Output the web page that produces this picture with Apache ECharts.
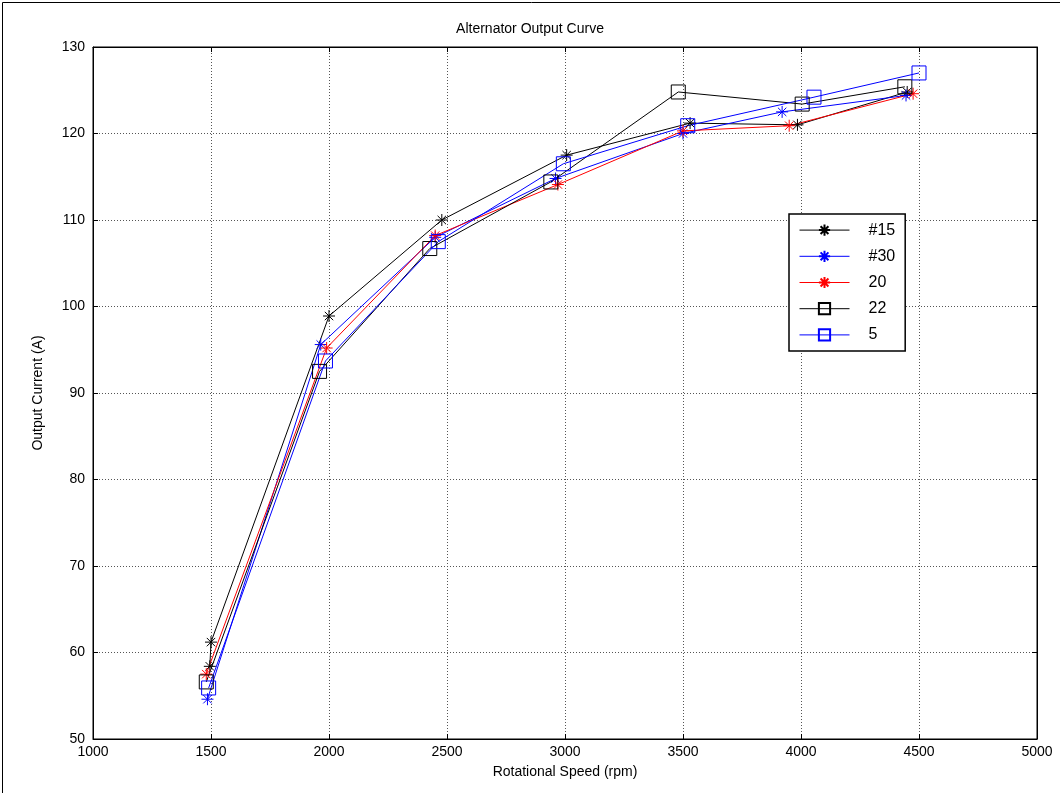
<!DOCTYPE html>
<html>
<head>
<meta charset="utf-8">
<script src="https://cdn.jsdelivr.net/npm/echarts@6/dist/echarts.min.js"></script>
<style>
html,body{margin:0;padding:0;background:#fff;}
#c{width:1060px;height:793px;}
</style>
</head>
<body>
<div id="c"></div>
<script>
const xTicks = [1000,1500,2000,2500,3000,3500,4000,4500,5000];
const yTicks = [50,60,70,80,90,100,110,120,130];
const seriesNames = ['#15','#30','20','22','5'];
const s15 = [[1495,58.4],[1500,61.2],[2000,98.9],[2478,110.0],[3007,117.5],[3530,121.2],[3985,121.0],[4450,124.8]];
const s30 = [[1485,54.6],[1965,95.6],[2450,108.0],[2960,114.8],[3500,120.0],[3920,122.5],[4445,124.4]];
const s20 = [[1480,57.5],[1990,95.2],[2450,108.2],[2970,114.1],[3500,120.3],[3950,120.9],[4475,124.6]];
const s22 = [[1480,56.6],[1960,92.5],[2427,106.7],[2940,114.4],[3480,124.8],[4005,123.4],[4440,125.4]];
const s5  = [[1490,55.9],[1985,93.7],[2463,107.5],[2993,116.5],[3520,120.9],[4055,124.2],[4500,127.0]];

const star = 'path://M0,-10L0,10M-10,0L10,0M-7,-7L7,7M-7,7L7,-7';
const FONT = 'Liberation Sans, Arial, sans-serif';

function mk(name, data, color, symbol, size){
  return {
    name: name, type:'line', data: data, xAxisIndex:0, yAxisIndex:0,
    symbol: symbol, symbolSize: size, showSymbol:true,
    lineStyle:{color:color, width:1},
    itemStyle:{color:'none', borderColor:color, borderWidth:1},
    emphasis:{disabled:true}, animation:false
  };
}

const chart = echarts.init(document.getElementById('c'), null, {renderer:'canvas'});
chart.setOption({
  backgroundColor:'#fff',
  animation:false,
  title:{text:'Alternator Output Curve', left:'center', top:17,
    textStyle:{fontFamily:FONT, fontSize:14, fontWeight:'normal', color:'#000'}},
  grid:{left:93, right:23, top:47, bottom:54, show:true, borderColor:'#000', borderWidth:1},
  legend:{
    orient:'vertical', left:789, top:214, width:118,
    data: seriesNames,
    itemWidth:50, itemHeight:14, itemGap:10,
    padding:[8,10,8,10],
    lineStyle:{width:1},
    backgroundColor:'#fff', borderColor:'#000', borderWidth:1.5,
    textStyle:{fontFamily:FONT, fontSize:16, color:'#000', padding:[0,0,0,14]},
    selectedMode:false
  },
  xAxis:[{
    type:'value', min:xTicks[0], max:xTicks[xTicks.length-1], interval:500,
    name:'Rotational Speed (rpm)', nameLocation:'middle', nameGap:26,
    nameTextStyle:{fontFamily:FONT, fontSize:14, color:'#000'},
    axisLine:{show:true, lineStyle:{color:'#000'}},
    axisTick:{show:true, inside:true, length:5, lineStyle:{color:'#000'}},
    axisLabel:{fontFamily:FONT, fontSize:14, color:'#000', margin:6, formatter:function(v){return String(v);}},
    splitLine:{show:true, lineStyle:{color:'#555', type:[1,2], width:1}}
  },{
    type:'value', position:'top', min:xTicks[0], max:xTicks[xTicks.length-1], interval:500,
    axisLine:{show:true, lineStyle:{color:'#000'}},
    axisTick:{show:true, inside:true, length:5, lineStyle:{color:'#000'}},
    axisLabel:{show:false}, splitLine:{show:false}
  }],
  yAxis:[{
    type:'value', min:yTicks[0], max:yTicks[yTicks.length-1], interval:10,
    name:'Output Current (A)', nameLocation:'middle', nameGap:48,
    nameTextStyle:{fontFamily:FONT, fontSize:14, color:'#000'},
    axisLine:{show:true, lineStyle:{color:'#000'}},
    axisTick:{show:true, inside:true, length:5, lineStyle:{color:'#000'}},
    axisLabel:{fontFamily:FONT, fontSize:14, color:'#000', margin:8},
    splitLine:{show:true, lineStyle:{color:'#555', type:[1,2], width:1}}
  },{
    type:'value', position:'right', min:yTicks[0], max:yTicks[yTicks.length-1], interval:10,
    axisLine:{show:true, lineStyle:{color:'#000'}},
    axisTick:{show:true, inside:true, length:5, lineStyle:{color:'#000'}},
    axisLabel:{show:false}, splitLine:{show:false}
  }],
  graphic:[{
    type:'rect', left:0, top:0, silent:true,
    shape:{x:0.5, y:0.5, width:1058, height:791},
    style:{fill:'none', stroke:'#000', lineWidth:1}
  }],
  series:[
    mk(seriesNames[0], s15, '#000000', star, 12),
    mk(seriesNames[1], s30, '#0000ff', star, 12),
    mk(seriesNames[2], s20, '#ff0000', star, 12),
    mk(seriesNames[3], s22, '#000000', 'rect', 14),
    mk(seriesNames[4], s5,  '#0000ff', 'rect', 14)
  ]
});
</script>
</body>
</html>
